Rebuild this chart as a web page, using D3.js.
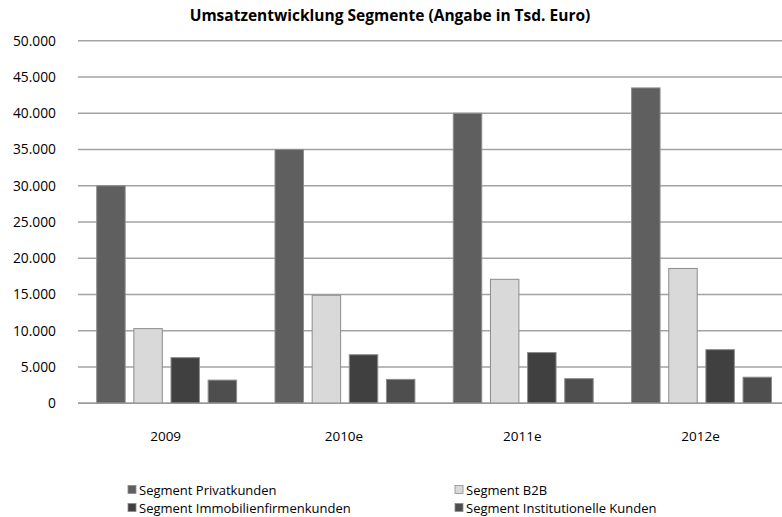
<!DOCTYPE html>
<html><head><meta charset="utf-8">
<script src="https://cdn.jsdelivr.net/npm/d3@7"></script>
<style>body{margin:0;background:#fff}svg{display:block}text{font-family:"Open Sans",sans-serif;fill:#000}</style>
</head><body><svg width="782" height="517"></svg>
<script>
const categories = ["2009","2010e","2011e","2012e"];
const seriesNames = ["Segment Privatkunden","Segment B2B","Segment Immobilienfirmenkunden","Segment Institutionelle Kunden"];
const privatkunden = [30000,35000,40000,43500];
const b2b = [10300,14900,17100,18600];
const immobilien = [6300,6700,7000,7400];
const institutionelle = [3200,3300,3400,3600];
const yTicks = [0,5000,10000,15000,20000,25000,30000,35000,40000,45000,50000];
const colors = ["#5f5f5f","#d9d9d9","#404040","#4e4e4e"];
const seriesValues = [privatkunden,b2b,immobilien,institutionelle];

const svg = d3.select("svg");
const x0 = d3.scaleBand().domain(categories).range([77.5,790.7]).padding(0);
const x1 = d3.scaleBand().domain(seriesNames).range([19.2, x0.bandwidth()-19.2]).paddingInner(0.234);
const y = d3.scaleLinear().domain([0,50000]).range([403.3,40.8]);
const fmt = v => d3.format(",")(v).replace(/,/g,".");

svg.append("g").selectAll("line").data(yTicks).join("line")
  .attr("x1",78).attr("x2",782).attr("y1",d=>y(d)).attr("y2",d=>y(d))
  .attr("stroke","#a3a3a3").attr("stroke-width",1.6);

svg.append("g").selectAll("text").data(yTicks).join("text")
  .attr("x",56).attr("y",d=>y(d)+4.8).attr("text-anchor","end")
  .style("font-size","13.8px").text(d=>fmt(d));

const rows = categories.map((c,i)=>({c, vals: seriesNames.map((s,j)=>({s, v: seriesValues[j][i], j}))}));
const g = svg.append("g").selectAll("g").data(rows).join("g")
  .attr("transform",d=>`translate(${x0(d.c)},0)`);
g.selectAll("rect").data(d=>d.vals).join("rect")
  .attr("x",d=>x1(d.s)).attr("width",x1.bandwidth())
  .attr("y",d=>y(d.v)).attr("height",d=>y(0)-y(d.v))
  .attr("fill",d=>colors[d.j]).attr("stroke","#8c8c8c").attr("stroke-width",1);

svg.append("line").attr("x1",78).attr("x2",782).attr("y1",y(0)).attr("y2",y(0))
  .attr("stroke","#9a9a9a").attr("stroke-width",1.6);

svg.append("g").selectAll("text").data(categories).join("text")
  .attr("x",d=>x0(d)+x0.bandwidth()/2-1).attr("y",441).attr("text-anchor","middle")
  .style("font-size","13.5px").text(d=>d);

svg.append("text").attr("x",390).attr("y",21).attr("text-anchor","middle")
  .style("font-size","15.5px").style("font-weight","bold")
  .text("Umsatzentwicklung Segmente (Angabe in Tsd. Euro)");

const legPos = [[128,494.5],[455,494.5],[128,512.5],[455,512.5]];
const lg = svg.append("g").selectAll("g").data(seriesNames).join("g")
  .attr("transform",(d,i)=>`translate(${legPos[i][0]},${legPos[i][1]})`);
lg.append("rect").attr("x",0).attr("y",-9).attr("width",8).attr("height",8)
  .attr("fill",(d,i)=>colors[i]).attr("stroke","#8c8c8c").attr("stroke-width",0.8);
lg.append("text").attr("x",11).attr("y",0).style("font-size","13px").text(d=>d);
</script></body></html>
